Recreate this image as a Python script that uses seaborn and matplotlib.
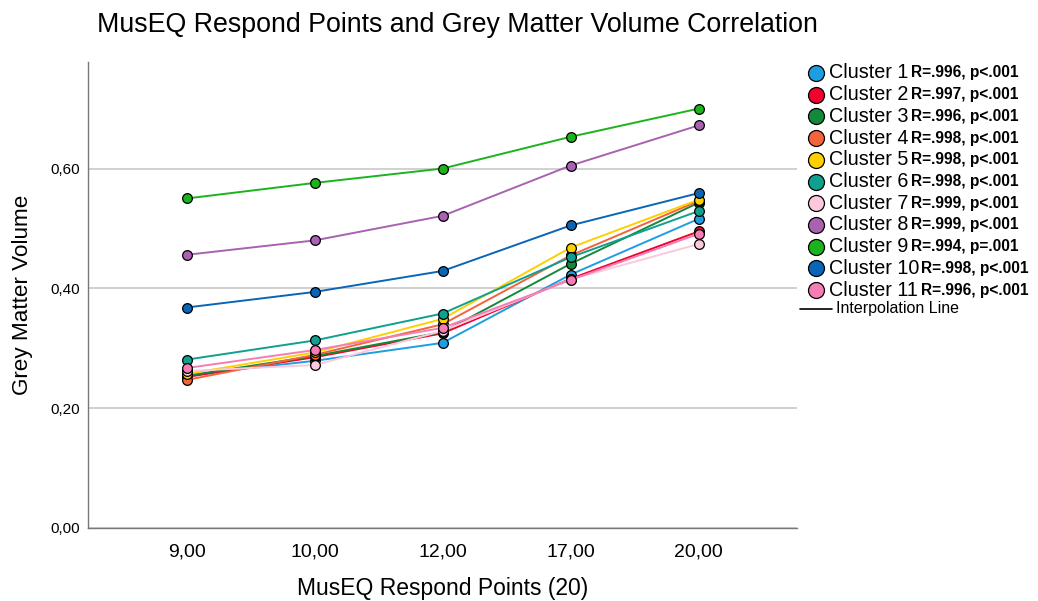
import numpy as np
import pandas as pd
import matplotlib
matplotlib.use("Agg")
import matplotlib.pyplot as plt
from matplotlib.lines import Line2D
from matplotlib import font_manager
import seaborn as sns

# data
x_labels = ["9,00", "10,00", "12,00", "17,00", "20,00"]
clusters = ["Cluster 1", "Cluster 2", "Cluster 3", "Cluster 4", "Cluster 5", "Cluster 6",
            "Cluster 7", "Cluster 8", "Cluster 9", "Cluster 10", "Cluster 11"]
stats = ["R=.996, p<.001", "R=.997, p<.001", "R=.996, p<.001", "R=.998, p<.001",
         "R=.998, p<.001", "R=.998, p<.001", "R=.999, p<.001", "R=.999, p<.001",
         "R=.994, p=.001", "R=.998, p<.001", "R=.996, p<.001"]
c1 = [0.255, 0.279, 0.309, 0.423, 0.516]
c2 = [0.252, 0.285, 0.325, 0.416, 0.495]
c3 = [0.254, 0.287, 0.327, 0.441, 0.543]
c4 = [0.247, 0.289, 0.340, 0.455, 0.546]
c5 = [0.257, 0.293, 0.349, 0.468, 0.548]
c6 = [0.281, 0.313, 0.358, 0.452, 0.529]
c7 = [0.262, 0.272, 0.329, 0.415, 0.474]
c8 = [0.456, 0.480, 0.521, 0.605, 0.672]
c9 = [0.550, 0.576, 0.600, 0.653, 0.700]
c10 = [0.368, 0.394, 0.429, 0.505, 0.559]
c11 = [0.267, 0.297, 0.334, 0.414, 0.491]
values = [c1, c2, c3, c4, c5, c6, c7, c8, c9, c10, c11]

colours = ["#1e9ee2", "#f4002c", "#14893c", "#f2643c", "#fdd000", "#0fa08f",
           "#fcc8dd", "#a862b0", "#1cb41c", "#0b65b7", "#f57db3"]

rows = []
for name, vals in zip(clusters, values):
    for xl, v in zip(x_labels, vals):
        rows.append({"points": xl, "volume": v, "cluster": name})
df = pd.DataFrame(rows)

sns.set_style("white")
plt.rcParams["font.family"] = ["Liberation Sans", "DejaVu Sans"]
plt.rcParams["text.color"] = "black"
plt.rcParams["axes.labelcolor"] = "black"
plt.rcParams["xtick.color"] = "black"
plt.rcParams["ytick.color"] = "black"

fig = plt.figure(figsize=(10.38, 6.01), dpi=100)
ax = fig.add_axes([0.0848, 0.1215, 0.6832, 0.7755])

sns.lineplot(data=df, x="points", y="volume", hue="cluster", hue_order=clusters,
             palette=colours, marker="o", markersize=7, markeredgecolor="black",
             markeredgewidth=0.9, linewidth=1.4, legend=False, ax=ax, sort=False)

ax.set_xlim(-0.77, 4.77)
ax.set_ylim(0, 0.778)
ax.set_yticks([0, 0.2, 0.4, 0.6])
ax.set_yticklabels(["0,00", "0,20", "0,40", "0,60"], fontsize=11)
ax.tick_params(axis="y", length=0, pad=6)
ax.tick_params(axis="x", length=0, pad=11, labelsize=14)
ax.yaxis.grid(True, color="#c8c8c8", linewidth=1.2)
ax.set_axisbelow(True)
for s in ["top", "right"]:
    ax.spines[s].set_visible(False)
for s in ["left", "bottom"]:
    ax.spines[s].set_color("#777777")
    ax.spines[s].set_linewidth(1.0)

ax.set_xlabel("MusEQ Respond Points (20)", fontsize=16.5, labelpad=12)
ax.set_ylabel("Grey Matter Volume", fontsize=16.2, labelpad=12)
fig.text(97 / 1038, 1 - 25 / 601, "MusEQ Respond Points and Grey Matter Volume Correlation",
         fontsize=19.3, va="center", ha="left")

# legend drawn by hand: normal cluster name, bold narrow stats
names = {f.name for f in font_manager.fontManager.ttflist}
narrow = "Liberation Sans Narrow" in names
W, H = 1038, 601
for i, (name, st, col) in enumerate(zip(clusters, stats, colours)):
    yy = 1 - (73 + i * 21.7) / H
    fig.add_artist(Line2D([816 / W], [yy], marker="o", markersize=11.5, color=col,
                          markeredgecolor="black", markeredgewidth=0.9,
                          transform=fig.transFigure))
    fig.text(829 / W, yy, name, fontsize=14.2, va="center", ha="left")
    xs = 911 if i < 9 else 921
    if narrow:
        fig.text(xs / W, yy, st, fontsize=13.3, fontweight="bold", va="center", ha="left",
                 family=["Liberation Sans Narrow", "DejaVu Sans"])
    else:
        fig.text(xs / W, yy, st, fontsize=11.2, fontweight="bold", va="center", ha="left")
yy = 1 - 309 / H
fig.add_artist(Line2D([800 / W, 832 / W], [yy, yy], color="black", linewidth=1.2,
                      transform=fig.transFigure))
fig.text(836 / W, yy, "Interpolation Line", fontsize=11.5, va="center", ha="left")

fig.savefig("out.png", dpi=100, facecolor="white")
